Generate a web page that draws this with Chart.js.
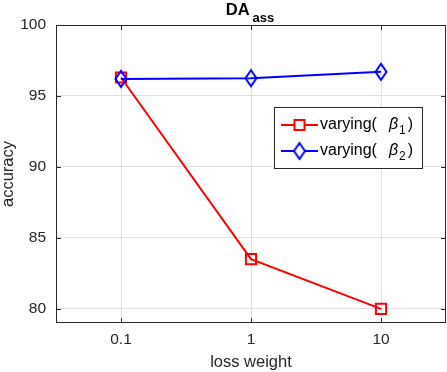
<!DOCTYPE html>
<html>
<head>
<meta charset="utf-8">
<script src="https://cdn.jsdelivr.net/npm/chart.js@4/dist/chart.umd.min.js"></script>
<style>
  html, body { margin: 0; padding: 0; background: #fff; }
  #wrap { width: 447px; height: 372px; }
</style>
</head>
<body>
<div id="wrap"><canvas id="chart" width="447" height="372"></canvas></div>
<script>
// data
const categories = ['0.1', '1', '10'];
const beta1Acc = [96.3, 83.5, 80.0];
const beta2Acc = [96.2, 96.25, 96.7];
const yTicks = [80, 85, 90, 95, 100];
const seriesNames = ['varying(', 'varying('];
const seriesSymbols = ['β', 'β'];
const seriesSubs = ['1', '2'];
const titleMain = 'DA';
const titleSub = 'ass';
const xLabel = 'loss weight';
const yLabel = 'accuracy';

const FONT = "'Liberation Sans', Arial, sans-serif";
const AXIS_COLOR = '#262626';

// matlab style diamond (a bit taller than wide), hollow
function makeDiamond(color) {
    const c = document.createElement('canvas');
    c.width = 16;
    c.height = 22;
    const g = c.getContext('2d');
    g.strokeStyle = color;
    g.lineWidth = 2;
    g.beginPath();
    g.moveTo(8, 3);
    g.lineTo(13.5, 11);
    g.lineTo(8, 19);
    g.lineTo(2.5, 11);
    g.closePath();
    g.stroke();
    return c;
}
const diamond = makeDiamond('#0000ff');

const framePlugin = {
    id: 'matlabFrame',
    afterDraw(chart) {
        const ctx = chart.ctx;
        const a = chart.chartArea;
        const xs = chart.scales.x, ys = chart.scales.y;
        ctx.save();

        // box
        ctx.strokeStyle = AXIS_COLOR;
        ctx.lineWidth = 1;
        ctx.strokeRect(a.left + 0.5, a.top + 0.5, a.right - a.left - 1, a.bottom - a.top - 1);

        // inward ticks on all four sides
        ctx.beginPath();
        yTicks.forEach(v => {
            const y = Math.round(ys.getPixelForValue(v)) + 0.5;
            ctx.moveTo(a.left, y); ctx.lineTo(a.left + 5, y);
            ctx.moveTo(a.right, y); ctx.lineTo(a.right - 5, y);
        });
        categories.forEach((c, i) => {
            const x = Math.round(xs.getPixelForValue(i)) + 0.5;
            ctx.moveTo(x, a.bottom); ctx.lineTo(x, a.bottom - 5);
            ctx.moveTo(x, a.top); ctx.lineTo(x, a.top + 5);
        });
        ctx.stroke();

        // title with subscript
        ctx.fillStyle = '#000';
        ctx.textBaseline = 'alphabetic';
        ctx.textAlign = 'left';
        ctx.font = 'bold 16.5px ' + FONT;
        const wMain = ctx.measureText(titleMain).width;
        ctx.font = 'bold 13px ' + FONT;
        const wSub = ctx.measureText(titleSub).width;
        const gap = 3;
        let tx = (a.left + a.right) / 2 - (wMain + gap + wSub) / 2 - 1;
        ctx.font = 'bold 16.5px ' + FONT;
        ctx.fillText(titleMain, tx, 15);
        ctx.font = 'bold 13px ' + FONT;
        ctx.fillText(titleSub, tx + wMain + gap, 22);

        // legend
        const lx = 274, ly = 107, lw = 148, lh = 61;
        ctx.fillStyle = '#fff';
        ctx.fillRect(lx, ly, lw, lh);
        ctx.strokeStyle = '#262626';
        ctx.strokeRect(lx + 0.5, ly + 0.5, lw, lh);

        chart.data.datasets.forEach((ds, i) => {
            const cy = 125 + i * 26;
            ctx.strokeStyle = ds.borderColor;
            ctx.lineWidth = 2;
            ctx.beginPath();
            ctx.moveTo(281, cy);
            ctx.lineTo(318, cy);
            ctx.stroke();
            const mx = 299.5;
            if (ds.pointStyle === 'rect') {
                ctx.fillStyle = '#fff';
                ctx.fillRect(mx - 5, cy - 5, 10, 10);
                ctx.strokeRect(mx - 5, cy - 5, 10, 10);
            } else {
                ctx.fillStyle = '#fff';
                ctx.beginPath();
                ctx.moveTo(mx, cy - 8); ctx.lineTo(mx + 5.5, cy); ctx.lineTo(mx, cy + 8); ctx.lineTo(mx - 5.5, cy);
                ctx.closePath();
                ctx.fill();
                ctx.drawImage(diamond, mx - 8, cy - 11);
            }

            ctx.fillStyle = '#000';
            ctx.font = '16px ' + FONT;
            const base = cy + 4;
            let x = 320;
            ctx.fillText(seriesNames[i], x, base);
            x += ctx.measureText(seriesNames[i]).width + 12;
            ctx.font = 'italic 16px ' + FONT;
            ctx.fillText(seriesSymbols[i], x, base);
            x += ctx.measureText(seriesSymbols[i]).width + 1;
            ctx.font = '12px ' + FONT;
            ctx.fillText(seriesSubs[i], x, base + 5);
            x += ctx.measureText(seriesSubs[i]).width + 2;
            ctx.font = '16px ' + FONT;
            ctx.fillText(')', x, base);
        });

        ctx.restore();
    }
};

const ctx = document.getElementById('chart').getContext('2d');
new Chart(ctx, {
    type: 'line',
    data: {
        labels: categories,
        datasets: [
            {
                label: 'varying(β1)',
                data: beta1Acc,
                borderColor: '#ff0000',
                borderWidth: 2,
                pointStyle: 'rect',
                pointRadius: 7.2,
                pointBorderWidth: 2,
                pointBorderColor: '#ff0000',
                pointBackgroundColor: 'rgba(0,0,0,0)',
                tension: 0,
                fill: false,
                order: 1
            },
            {
                label: 'varying(β2)',
                data: beta2Acc,
                borderColor: '#0000ff',
                borderWidth: 2,
                pointStyle: diamond,
                pointRadius: 8,
                tension: 0,
                fill: false,
                order: 0
            }
        ]
    },
    options: {
        responsive: false,
        animation: false,
        devicePixelRatio: 1,
        events: [],
        layout: { autoPadding: false, padding: { top: 25, right: 1, left: 0, bottom: 0 } },
        plugins: {
            legend: { display: false },
            title: { display: false },
            tooltip: { enabled: false }
        },
        scales: {
            x: {
                type: 'category',
                offset: true,
                grid: { offset: false, color: '#dfdfdf', drawTicks: false },
                border: { display: false },
                ticks: { color: AXIS_COLOR, font: { family: FONT, size: 15.5 }, padding: 7, maxRotation: 0 },
                title: {
                    display: true, text: xLabel, color: AXIS_COLOR,
                    font: { family: FONT, size: 16.5, lineHeight: 1 },
                    padding: { top: 0, bottom: 1 }
                },
                afterFit(scale) {
                    scale.height = 49;
                    scale.paddingLeft = 0;
                    scale.paddingRight = 0;
                }
            },
            y: {
                min: 79,
                max: 100,
                afterBuildTicks(scale) { scale.ticks = yTicks.map(v => ({ value: v })); },
                grid: { color: '#dfdfdf', drawTicks: false },
                border: { display: false },
                ticks: { color: AXIS_COLOR, font: { family: FONT, size: 15.5 }, padding: 10 },
                title: {
                    display: true, text: yLabel, color: AXIS_COLOR,
                    font: { family: FONT, size: 16.5, lineHeight: 1 },
                    padding: { top: 0, bottom: 0 }
                },
                afterFit(scale) {
                    scale.width = 56;
                    scale.paddingTop = 0;
                    scale.paddingBottom = 0;
                }
            }
        }
    },
    plugins: [framePlugin]
});
</script>
</body>
</html>
